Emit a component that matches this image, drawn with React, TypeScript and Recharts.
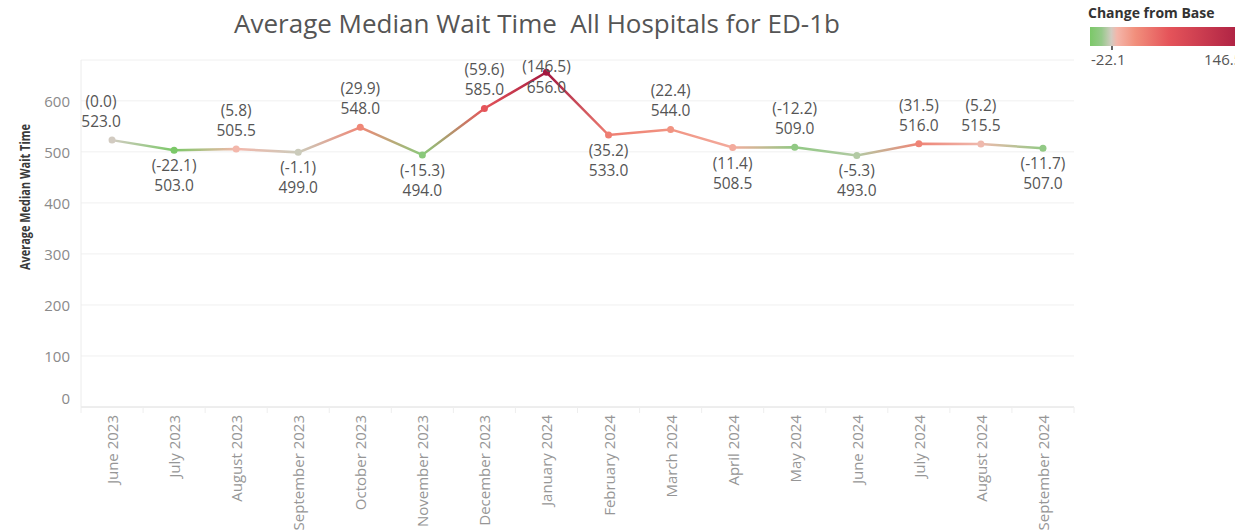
import React from 'react';
import { LineChart, Line, XAxis, YAxis, CartesianGrid } from 'recharts';

const months = [
  'June 2023', 'July 2023', 'August 2023', 'September 2023', 'October 2023', 'November 2023',
  'December 2023', 'January 2024', 'February 2024', 'March 2024', 'April 2024', 'May 2024',
  'June 2024', 'July 2024', 'August 2024', 'September 2024',
];
const avgMedianWait = [523.0, 503.0, 505.5, 499.0, 548.0, 494.0, 585.0, 656.0, 533.0, 544.0, 508.5, 509.0, 493.0, 516.0, 515.5, 507.0];
const changeFromBase = [0.0, -22.1, 5.8, -1.1, 29.9, -15.3, 59.6, 146.5, 35.2, 22.4, 11.4, -12.2, -5.3, 31.5, 5.2, -11.7];
const yTicks = [0, 100, 200, 300, 400, 500, 600];
const chartTitle = 'Average Median Wait Time  All Hospitals for ED-1b';
const yAxisTitle = 'Average Median Wait Time';
const legendTitle = 'Change from Base';

const data = months.map((m, i) => ({ month: m, value: avgMedianWait[i], change: changeFromBase[i] }));

const FONT = '"Open Sans", "Noto Sans", sans-serif';
const W = 1235;
const H = 530;
const PLOT_LEFT = 81;
const PLOT_RIGHT = 1074;
const PLOT_TOP = 60;
const PLOT_BOTTOM = 407;
const HALF_BAND = (PLOT_RIGHT - PLOT_LEFT) / months.length / 2;

const colorStops: [number, string][] = [
  [-22.1, '#7bc868'],
  [-10, '#96c98a'],
  [0, '#d2cbc1'],
  [6, '#f4b6aa'],
  [25, '#f18f7c'],
  [60, '#e5545a'],
  [146.5, '#a3183f'],
];

function hexToRgb(h: string) {
  const n = parseInt(h.slice(1), 16);
  return [(n >> 16) & 255, (n >> 8) & 255, n & 255];
}
function colorFor(v: number) {
  if (v <= colorStops[0][0]) return colorStops[0][1];
  for (let i = 1; i < colorStops.length; i++) {
    const [v1, c1] = colorStops[i];
    const [v0, c0] = colorStops[i - 1];
    if (v <= v1) {
      const t = (v - v0) / (v1 - v0);
      const a = hexToRgb(c0);
      const b = hexToRgb(c1);
      const r = a.map((x, k) => Math.round(x + (b[k] - x) * t));
      return `rgb(${r[0]},${r[1]},${r[2]})`;
    }
  }
  return colorStops[colorStops.length - 1][1];
}

const legendMin = Math.min(...changeFromBase);
const legendMax = Math.max(...changeFromBase);

// label placement relative to each point (layout only)
const labelPlacement = ['above', 'below', 'above', 'below', 'above', 'below', 'above', 'center', 'below', 'above', 'below', 'above', 'below', 'above', 'above', 'below'];

const YTick = (props: any) => {
  const { x, y, payload } = props;
  return (
    <text x={x} y={payload.value === 0 ? y - 9 : y} textAnchor="end" dominantBaseline="central" fontSize={15} fill="#8a8a8a" fontFamily={FONT}>
      {payload.value}
    </text>
  );
};

const XTick = (props: any) => {
  const { x, y, payload, index } = props;
  return (
    <g>
      <line x1={x - HALF_BAND} x2={x - HALF_BAND} y1={PLOT_BOTTOM} y2={PLOT_BOTTOM + 6} stroke="#eeeeee" />
      {index === months.length - 1 && (
        <line x1={x + HALF_BAND} x2={x + HALF_BAND} y1={PLOT_BOTTOM} y2={PLOT_BOTTOM + 6} stroke="#eeeeee" />
      )}
      <text transform={`translate(${x},${y}) rotate(-90)`} textAnchor="end" dominantBaseline="central" fontSize={15} fill="#969696" fontFamily={FONT}>
        {payload.value}
      </text>
    </g>
  );
};

const Dot = (props: any) => {
  const { cx, cy, index } = props;
  return <circle key={`dot-${index}`} cx={cx} cy={cy} r={3.5} fill={colorFor(changeFromBase[index])} />;
};

const DataLabel = (props: any) => {
  const { x, y, index } = props;
  const place = labelPlacement[index];
  let y1 = y - 39;
  let y2 = y - 19;
  if (place === 'below') {
    y1 = y + 15;
    y2 = y + 35;
  } else if (place === 'center') {
    y1 = y - 6;
    y2 = y + 15;
  }
  const dx = index === 0 ? -11 : 0;
  const ch = changeFromBase[index];
  return (
    <g key={`lbl-${index}`}>
      <text x={x + dx} y={y1} textAnchor="middle" dominantBaseline="central" fontSize={15.5} fill="#555" fontFamily={FONT}>
        {`(${ch.toFixed(1)})`}
      </text>
      <text x={x + dx} y={y2} textAnchor="middle" dominantBaseline="central" fontSize={15.5} fill="#555" fontFamily={FONT}>
        {avgMedianWait[index].toFixed(1)}
      </text>
    </g>
  );
};

export default function App() {
  const n = months.length;
  return (
    <div style={{ position: 'absolute', left: 0, top: 0, width: W, height: H, overflow: 'hidden', background: '#fff' }}>
      <LineChart
        width={W}
        height={H}
        data={data}
        margin={{ top: PLOT_TOP, right: W - PLOT_RIGHT, bottom: 0, left: 0 }}
      >
        <defs>
          <linearGradient id="segGrad" x1="0" y1="0" x2="1" y2="0">
            {changeFromBase.map((c, i) => (
              <stop key={i} offset={`${(i / (n - 1)) * 100}%`} stopColor={colorFor(c)} />
            ))}
          </linearGradient>
        </defs>
        <CartesianGrid vertical={false} stroke="#f0f0f0" />
        <XAxis
          dataKey="month"
          scale="band"
          interval={0}
          height={H - PLOT_BOTTOM}
          tickLine={false}
          tickSize={0}
          tickMargin={8}
          axisLine={{ stroke: '#e4e4e4' }}
          tick={<XTick />}
        />
        <YAxis
          width={PLOT_LEFT}
          domain={[0, 680]}
          ticks={yTicks}
          tickLine={false}
          tickSize={0}
          tickMargin={11}
          axisLine={{ stroke: '#ececec' }}
          tick={<YTick />}
          label={() => (
            <text
              transform="translate(24,197) rotate(-90)"
              textAnchor="middle"
              dominantBaseline="central"
              fontSize={15}
              fontWeight={700}
              fill="#3a3a3a"
              fontFamily={FONT}
              textLength={146}
              lengthAdjust="spacingAndGlyphs"
            >
              {yAxisTitle}
            </text>
          )}
        />
        <Line
          type="linear"
          dataKey="value"
          stroke="url(#segGrad)"
          strokeWidth={2.5}
          dot={<Dot />}
          activeDot={false}
          label={<DataLabel />}
          isAnimationActive={false}
        />
      </LineChart>
      <svg width={W} height={H} style={{ position: 'absolute', left: 0, top: 0, pointerEvents: 'none' }}>
        <defs>
          <linearGradient id="legendGrad" x1="0" y1="0" x2="1" y2="0">
            {colorStops.map(([v, c], i) => (
              <stop key={i} offset={`${((v - legendMin) / (legendMax - legendMin)) * 100}%`} stopColor={c} />
            ))}
          </linearGradient>
        </defs>
        <text x={537} y={33} textAnchor="middle" fontSize={26} fill="#555" fontFamily={FONT} style={{ whiteSpace: 'pre' }}>
          {chartTitle}
        </text>
        <text x={1088} y={18} fontSize={14} fontWeight={700} fill="#333" fontFamily={FONT}>
          {legendTitle}
        </text>
        <rect x={1090} y={27} width={162} height={19} fill="url(#legendGrad)" />
        <line x1={1112} x2={1112} y1={46} y2={50} stroke="#333" strokeWidth={1.5} />
        <text x={1091} y={65} fontSize={15} fill="#555" fontFamily={FONT}>
          {legendMin.toFixed(1)}
        </text>
        <text x={1204} y={65} fontSize={15} fill="#555" fontFamily={FONT}>
          {legendMax.toFixed(1)}
        </text>
      </svg>
    </div>
  );
}
